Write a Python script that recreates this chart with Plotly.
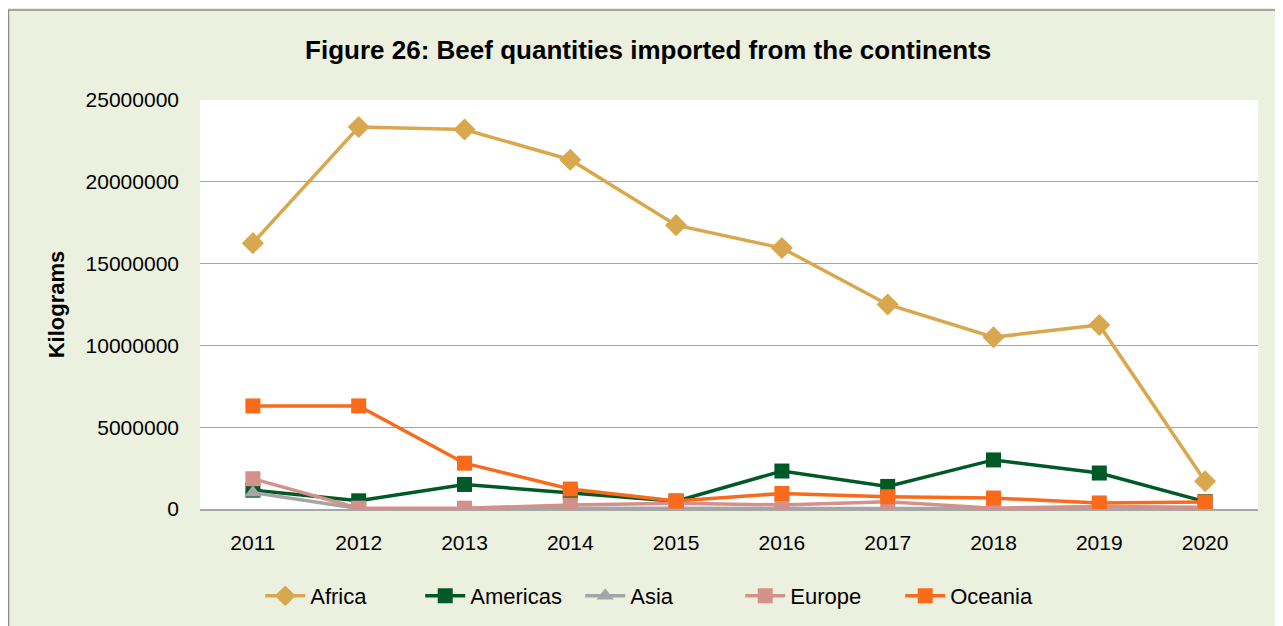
import plotly.graph_objects as go

years = ["2011", "2012", "2013", "2014", "2015", "2016", "2017", "2018", "2019", "2020"]
africa = [16250000, 23350000, 23200000, 21350000, 17350000, 15950000, 12500000, 10500000, 11250000, 1700000]
americas = [1150000, 500000, 1500000, 980000, 480000, 2320000, 1380000, 3000000, 2200000, 450000]
asia = [1000000, 30000, 20000, 50000, 40000, 30000, 20000, 20000, 30000, 20000]
europe = [1850000, 50000, 50000, 240000, 350000, 250000, 450000, 50000, 150000, 100000]
oceania = [6300000, 6300000, 2800000, 1220000, 490000, 950000, 750000, 670000, 370000, 430000]

series = [
    ("Africa", africa, "#D9A84E", "diamond", 17),
    ("Americas", americas, "#005A27", "square", 15),
    ("Asia", asia, "#A5A5A5", "triangle-up", 15),
    ("Europe", europe, "#D4918C", "square", 15),
    ("Oceania", oceania, "#F96A1B", "square", 15),
]

FONT = "Liberation Sans, Arial, sans-serif"

L, R, T, B = 192, 33, 92, 125
PW, PH = 1283 - L - R, 626 - T - B

fig = go.Figure()
for name, vals, color, sym, size in series:
    fig.add_trace(go.Scatter(
        x=years, y=vals, name=name, mode="lines+markers",
        line=dict(color=color, width=3.5),
        marker=dict(symbol=sym, size=size, color=color),
    ))

fig.update_layout(
    width=1283, height=626,
    margin=dict(l=L, r=R, t=T, b=B, autoexpand=False),
    paper_bgcolor="#ECF0DF",
    plot_bgcolor="white",
    font=dict(family=FONT, size=21, color="black"),
    title=dict(text="<b>Figure 26: Beef quantities imported from the continents</b>",
               x=0.499, xanchor="center", y=1 - 42 / 626, yanchor="middle",
               font=dict(family=FONT, size=26, color="black")),
    showlegend=True,
    legend=dict(orientation="h", x=0.435, xanchor="center", y=(T + PH - 588) / PH, yanchor="middle",
                font=dict(family=FONT, size=22), bgcolor="rgba(0,0,0,0)",
                itemwidth=40, tracegroupgap=0, entrywidth=105, entrywidthmode="pixels"),
    xaxis=dict(type="category", range=[-0.5, 9.5], showgrid=False, showline=True,
               linecolor="#A6A6A6", linewidth=1.5, ticks="", ticklabelstandoff=14,
               tickfont=dict(family=FONT, size=21)),
    yaxis=dict(range=[0, 25000000], dtick=5000000, tickformat="d", showgrid=True,
               gridcolor="#A6A6A6", gridwidth=1.2, zeroline=False, showline=False,
               ticks="", ticklabelstandoff=20,
               title=dict(text="<b>Kilograms</b>", standoff=14, font=dict(family=FONT, size=22)),
               tickfont=dict(family=FONT, size=21)),
)
fig.add_shape(type="rect", xref="paper", yref="paper",
              x0=(0.5 - L) / PW, x1=1 + (R + 10) / PW, y0=-(B + 10) / PH, y1=1 + (T - 2) / PH,
              line=dict(color="#8C8C8C", width=1.5), fillcolor="rgba(0,0,0,0)", layer="above")

fig.write_html("out.html")
